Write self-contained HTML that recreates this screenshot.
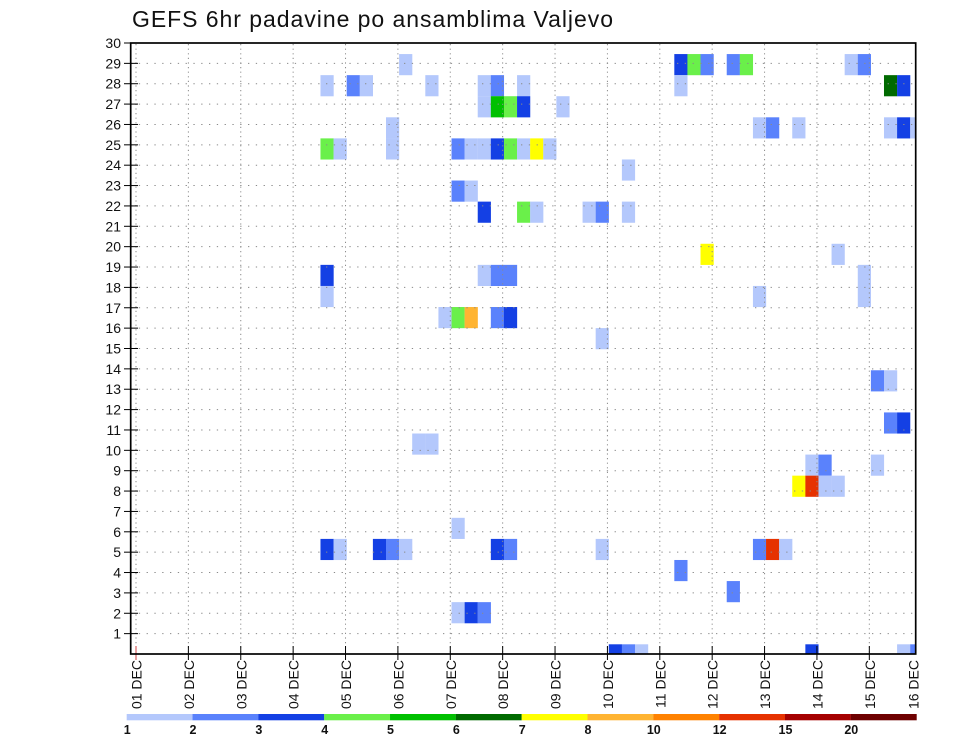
<!DOCTYPE html>
<html>
<head>
<meta charset="utf-8">
<style>
html,body{margin:0;padding:0;background:#fff;}
svg{display:block;}
.c1{fill:#b4c8fc}.c2{fill:#5a82fc}.c3{fill:#1440e4}.c4{fill:#6af04a}.c5{fill:#00c000}.c6{fill:#006a00}
.c7{fill:#ffff00}.c8{fill:#ffb432}.c9{fill:#ff8200}.c10{fill:#e63200}.c11{fill:#a50000}.c12{fill:#6e0000}
text{font-family:"Liberation Sans",Arial,sans-serif;fill:#111;}
.yl{font-size:14px;text-anchor:end;}
.xl{font-size:14px;text-anchor:end;}
.cl{font-size:12.5px;font-weight:bold;text-anchor:middle;}
.hg{stroke:#8a8a8a;stroke-width:1;stroke-dasharray:1.3 6.5;}
.vg{stroke:#8a8a8a;stroke-width:1;stroke-dasharray:1.2 3.4;}
.tk{stroke:#000;stroke-width:1;}
</style>
</head>
<body>
<svg width="960" height="742" viewBox="0 0 960 742" xmlns="http://www.w3.org/2000/svg">
<rect width="960" height="742" fill="#fff"/>
<text x="132" y="27" font-size="23" textLength="481" lengthAdjust="spacing">GEFS 6hr padavine po ansamblima Valjevo</text>
<defs><clipPath id="pc"><rect x="130.7" y="43" width="785" height="611"/></clipPath></defs>
<g clip-path="url(#pc)">
<rect class="c1" x="399.1" y="54.06" width="13.2" height="21.15"/>
<rect class="c3" x="674.31" y="54.06" width="13.2" height="21.15"/>
<rect class="c4" x="687.41" y="54.06" width="13.2" height="21.15"/>
<rect class="c2" x="700.52" y="54.06" width="13.2" height="21.15"/>
<rect class="c2" x="726.73" y="54.06" width="13.2" height="21.15"/>
<rect class="c4" x="739.83" y="54.06" width="13.2" height="21.15"/>
<rect class="c1" x="844.67" y="54.06" width="13.2" height="21.15"/>
<rect class="c2" x="857.78" y="54.06" width="13.2" height="21.15"/>
<rect class="c1" x="320.47" y="75.14" width="13.2" height="21.15"/>
<rect class="c2" x="346.68" y="75.14" width="13.2" height="21.15"/>
<rect class="c1" x="359.79" y="75.14" width="13.2" height="21.15"/>
<rect class="c1" x="425.31" y="75.14" width="13.2" height="21.15"/>
<rect class="c1" x="477.73" y="75.14" width="13.2" height="21.15"/>
<rect class="c2" x="490.84" y="75.14" width="13.2" height="21.15"/>
<rect class="c1" x="517.05" y="75.14" width="13.2" height="21.15"/>
<rect class="c1" x="674.31" y="75.14" width="13.2" height="21.15"/>
<rect class="c6" x="883.99" y="75.14" width="13.2" height="21.15"/>
<rect class="c3" x="897.09" y="75.14" width="13.2" height="21.15"/>
<rect class="c1" x="477.73" y="96.22" width="13.2" height="21.15"/>
<rect class="c5" x="490.84" y="96.22" width="13.2" height="21.15"/>
<rect class="c4" x="503.94" y="96.22" width="13.2" height="21.15"/>
<rect class="c3" x="517.05" y="96.22" width="13.2" height="21.15"/>
<rect class="c1" x="556.36" y="96.22" width="13.2" height="21.15"/>
<rect class="c1" x="386.0" y="117.3" width="13.2" height="21.15"/>
<rect class="c1" x="752.94" y="117.3" width="13.2" height="21.15"/>
<rect class="c2" x="766.04" y="117.3" width="13.2" height="21.15"/>
<rect class="c1" x="792.25" y="117.3" width="13.2" height="21.15"/>
<rect class="c1" x="883.99" y="117.3" width="13.2" height="21.15"/>
<rect class="c3" x="897.09" y="117.3" width="13.2" height="21.15"/>
<rect class="c1" x="910.2" y="117.3" width="13.2" height="21.15"/>
<rect class="c4" x="320.47" y="138.38" width="13.2" height="21.15"/>
<rect class="c1" x="333.58" y="138.38" width="13.2" height="21.15"/>
<rect class="c1" x="386.0" y="138.38" width="13.2" height="21.15"/>
<rect class="c2" x="451.52" y="138.38" width="13.2" height="21.15"/>
<rect class="c1" x="464.63" y="138.38" width="13.2" height="21.15"/>
<rect class="c1" x="477.73" y="138.38" width="13.2" height="21.15"/>
<rect class="c3" x="490.84" y="138.38" width="13.2" height="21.15"/>
<rect class="c4" x="503.94" y="138.38" width="13.2" height="21.15"/>
<rect class="c1" x="517.05" y="138.38" width="13.2" height="21.15"/>
<rect class="c7" x="530.15" y="138.38" width="13.2" height="21.15"/>
<rect class="c1" x="543.26" y="138.38" width="13.2" height="21.15"/>
<rect class="c1" x="621.89" y="159.46" width="13.2" height="21.15"/>
<rect class="c2" x="451.52" y="180.54" width="13.2" height="21.15"/>
<rect class="c1" x="464.63" y="180.54" width="13.2" height="21.15"/>
<rect class="c3" x="477.73" y="201.62" width="13.2" height="21.15"/>
<rect class="c4" x="517.05" y="201.62" width="13.2" height="21.15"/>
<rect class="c1" x="530.15" y="201.62" width="13.2" height="21.15"/>
<rect class="c1" x="582.57" y="201.62" width="13.2" height="21.15"/>
<rect class="c2" x="595.68" y="201.62" width="13.2" height="21.15"/>
<rect class="c1" x="621.89" y="201.62" width="13.2" height="21.15"/>
<rect class="c7" x="700.52" y="243.78" width="13.2" height="21.15"/>
<rect class="c1" x="831.57" y="243.78" width="13.2" height="21.15"/>
<rect class="c3" x="320.47" y="264.86" width="13.2" height="21.15"/>
<rect class="c1" x="477.73" y="264.86" width="13.2" height="21.15"/>
<rect class="c2" x="490.84" y="264.86" width="13.2" height="21.15"/>
<rect class="c2" x="503.94" y="264.86" width="13.2" height="21.15"/>
<rect class="c1" x="857.78" y="264.86" width="13.2" height="21.15"/>
<rect class="c1" x="320.47" y="285.94" width="13.2" height="21.15"/>
<rect class="c1" x="752.94" y="285.94" width="13.2" height="21.15"/>
<rect class="c1" x="857.78" y="285.94" width="13.2" height="21.15"/>
<rect class="c1" x="438.42" y="307.02" width="13.2" height="21.15"/>
<rect class="c4" x="451.52" y="307.02" width="13.2" height="21.15"/>
<rect class="c8" x="464.63" y="307.02" width="13.2" height="21.15"/>
<rect class="c2" x="490.84" y="307.02" width="13.2" height="21.15"/>
<rect class="c3" x="503.94" y="307.02" width="13.2" height="21.15"/>
<rect class="c1" x="595.68" y="328.1" width="13.2" height="21.15"/>
<rect class="c2" x="870.88" y="370.26" width="13.2" height="21.15"/>
<rect class="c1" x="883.99" y="370.26" width="13.2" height="21.15"/>
<rect class="c2" x="883.99" y="412.42" width="13.2" height="21.15"/>
<rect class="c3" x="897.09" y="412.42" width="13.2" height="21.15"/>
<rect class="c1" x="412.2" y="433.5" width="13.2" height="21.15"/>
<rect class="c1" x="425.31" y="433.5" width="13.2" height="21.15"/>
<rect class="c1" x="805.36" y="454.58" width="13.2" height="21.15"/>
<rect class="c2" x="818.46" y="454.58" width="13.2" height="21.15"/>
<rect class="c1" x="870.88" y="454.58" width="13.2" height="21.15"/>
<rect class="c7" x="792.25" y="475.66" width="13.2" height="21.15"/>
<rect class="c10" x="805.36" y="475.66" width="13.2" height="21.15"/>
<rect class="c1" x="818.46" y="475.66" width="13.2" height="21.15"/>
<rect class="c1" x="831.57" y="475.66" width="13.2" height="21.15"/>
<rect class="c1" x="451.52" y="517.82" width="13.2" height="21.15"/>
<rect class="c3" x="320.47" y="538.9" width="13.2" height="21.15"/>
<rect class="c1" x="333.58" y="538.9" width="13.2" height="21.15"/>
<rect class="c3" x="372.89" y="538.9" width="13.2" height="21.15"/>
<rect class="c2" x="386.0" y="538.9" width="13.2" height="21.15"/>
<rect class="c1" x="399.1" y="538.9" width="13.2" height="21.15"/>
<rect class="c3" x="490.84" y="538.9" width="13.2" height="21.15"/>
<rect class="c2" x="503.94" y="538.9" width="13.2" height="21.15"/>
<rect class="c1" x="595.68" y="538.9" width="13.2" height="21.15"/>
<rect class="c2" x="752.94" y="538.9" width="13.2" height="21.15"/>
<rect class="c10" x="766.04" y="538.9" width="13.2" height="21.15"/>
<rect class="c1" x="779.15" y="538.9" width="13.2" height="21.15"/>
<rect class="c2" x="674.31" y="559.98" width="13.2" height="21.15"/>
<rect class="c2" x="726.73" y="581.06" width="13.2" height="21.15"/>
<rect class="c1" x="451.52" y="602.14" width="13.2" height="21.15"/>
<rect class="c3" x="464.63" y="602.14" width="13.2" height="21.15"/>
<rect class="c2" x="477.73" y="602.14" width="13.2" height="21.15"/>
<rect class="c3" x="608.78" y="644.3" width="13.2" height="21.15"/>
<rect class="c2" x="621.89" y="644.3" width="13.2" height="21.15"/>
<rect class="c1" x="634.99" y="644.3" width="13.2" height="21.15"/>
<rect class="c3" x="805.36" y="644.3" width="13.2" height="21.15"/>
<rect class="c1" x="897.09" y="644.3" width="13.2" height="21.15"/>
<rect class="c2" x="910.2" y="644.3" width="13.2" height="21.15"/>
</g>
<g class="hg">
<line x1="131" x2="915" y1="633.63" y2="633.63"/>
<line x1="131" x2="915" y1="613.27" y2="613.27"/>
<line x1="131" x2="915" y1="592.9" y2="592.9"/>
<line x1="131" x2="915" y1="572.53" y2="572.53"/>
<line x1="131" x2="915" y1="552.17" y2="552.17"/>
<line x1="131" x2="915" y1="531.8" y2="531.8"/>
<line x1="131" x2="915" y1="511.43" y2="511.43"/>
<line x1="131" x2="915" y1="491.06" y2="491.06"/>
<line x1="131" x2="915" y1="470.7" y2="470.7"/>
<line x1="131" x2="915" y1="450.33" y2="450.33"/>
<line x1="131" x2="915" y1="429.96" y2="429.96"/>
<line x1="131" x2="915" y1="409.6" y2="409.6"/>
<line x1="131" x2="915" y1="389.23" y2="389.23"/>
<line x1="131" x2="915" y1="368.86" y2="368.86"/>
<line x1="131" x2="915" y1="348.5" y2="348.5"/>
<line x1="131" x2="915" y1="328.13" y2="328.13"/>
<line x1="131" x2="915" y1="307.76" y2="307.76"/>
<line x1="131" x2="915" y1="287.39" y2="287.39"/>
<line x1="131" x2="915" y1="267.03" y2="267.03"/>
<line x1="131" x2="915" y1="246.66" y2="246.66"/>
<line x1="131" x2="915" y1="226.29" y2="226.29"/>
<line x1="131" x2="915" y1="205.93" y2="205.93"/>
<line x1="131" x2="915" y1="185.56" y2="185.56"/>
<line x1="131" x2="915" y1="165.19" y2="165.19"/>
<line x1="131" x2="915" y1="144.83" y2="144.83"/>
<line x1="131" x2="915" y1="124.46" y2="124.46"/>
<line x1="131" x2="915" y1="104.09" y2="104.09"/>
<line x1="131" x2="915" y1="83.72" y2="83.72"/>
<line x1="131" x2="915" y1="63.36" y2="63.36"/>
</g>
<g class="vg">
<line x1="136" x2="136" y1="44" y2="653"/>
<line x1="188.38" x2="188.38" y1="44" y2="653"/>
<line x1="240.76" x2="240.76" y1="44" y2="653"/>
<line x1="293.14" x2="293.14" y1="44" y2="653"/>
<line x1="345.52" x2="345.52" y1="44" y2="653"/>
<line x1="397.9" x2="397.9" y1="44" y2="653"/>
<line x1="450.28" x2="450.28" y1="44" y2="653"/>
<line x1="502.66" x2="502.66" y1="44" y2="653"/>
<line x1="555.04" x2="555.04" y1="44" y2="653"/>
<line x1="607.42" x2="607.42" y1="44" y2="653"/>
<line x1="659.8" x2="659.8" y1="44" y2="653"/>
<line x1="712.18" x2="712.18" y1="44" y2="653"/>
<line x1="764.56" x2="764.56" y1="44" y2="653"/>
<line x1="816.94" x2="816.94" y1="44" y2="653"/>
<line x1="869.32" x2="869.32" y1="44" y2="653"/>
</g>
<g class="tk">
<line x1="124" x2="138" y1="633.63" y2="633.63"/>
<line x1="124" x2="138" y1="613.27" y2="613.27"/>
<line x1="124" x2="138" y1="592.9" y2="592.9"/>
<line x1="124" x2="138" y1="572.53" y2="572.53"/>
<line x1="124" x2="138" y1="552.17" y2="552.17"/>
<line x1="124" x2="138" y1="531.8" y2="531.8"/>
<line x1="124" x2="138" y1="511.43" y2="511.43"/>
<line x1="124" x2="138" y1="491.06" y2="491.06"/>
<line x1="124" x2="138" y1="470.7" y2="470.7"/>
<line x1="124" x2="138" y1="450.33" y2="450.33"/>
<line x1="124" x2="138" y1="429.96" y2="429.96"/>
<line x1="124" x2="138" y1="409.6" y2="409.6"/>
<line x1="124" x2="138" y1="389.23" y2="389.23"/>
<line x1="124" x2="138" y1="368.86" y2="368.86"/>
<line x1="124" x2="138" y1="348.5" y2="348.5"/>
<line x1="124" x2="138" y1="328.13" y2="328.13"/>
<line x1="124" x2="138" y1="307.76" y2="307.76"/>
<line x1="124" x2="138" y1="287.39" y2="287.39"/>
<line x1="124" x2="138" y1="267.03" y2="267.03"/>
<line x1="124" x2="138" y1="246.66" y2="246.66"/>
<line x1="124" x2="138" y1="226.29" y2="226.29"/>
<line x1="124" x2="138" y1="205.93" y2="205.93"/>
<line x1="124" x2="138" y1="185.56" y2="185.56"/>
<line x1="124" x2="138" y1="165.19" y2="165.19"/>
<line x1="124" x2="138" y1="144.83" y2="144.83"/>
<line x1="124" x2="138" y1="124.46" y2="124.46"/>
<line x1="124" x2="138" y1="104.09" y2="104.09"/>
<line x1="124" x2="138" y1="83.72" y2="83.72"/>
<line x1="124" x2="138" y1="63.36" y2="63.36"/>
<line x1="124" x2="131" y1="43" y2="43"/>
<line x1="188.38" x2="188.38" y1="646" y2="660"/>
<line x1="240.76" x2="240.76" y1="646" y2="660"/>
<line x1="293.14" x2="293.14" y1="646" y2="660"/>
<line x1="345.52" x2="345.52" y1="646" y2="660"/>
<line x1="397.9" x2="397.9" y1="646" y2="660"/>
<line x1="450.28" x2="450.28" y1="646" y2="660"/>
<line x1="502.66" x2="502.66" y1="646" y2="660"/>
<line x1="555.04" x2="555.04" y1="646" y2="660"/>
<line x1="607.42" x2="607.42" y1="646" y2="660"/>
<line x1="659.8" x2="659.8" y1="646" y2="660"/>
<line x1="712.18" x2="712.18" y1="646" y2="660"/>
<line x1="764.56" x2="764.56" y1="646" y2="660"/>
<line x1="816.94" x2="816.94" y1="646" y2="660"/>
<line x1="869.32" x2="869.32" y1="646" y2="660"/>
</g>
<line x1="136" x2="136" y1="646" y2="660" stroke="#d04040" stroke-width="1"/>
<line x1="131" x2="141" y1="654" y2="654" stroke="#d04040" stroke-width="1"/>
<rect x="130.7" y="43" width="785" height="611" fill="none" stroke="#000" stroke-width="1.7"/>
<g class="yl">
<text x="121" y="638.6">1</text>
<text x="121" y="618.3">2</text>
<text x="121" y="597.9">3</text>
<text x="121" y="577.5">4</text>
<text x="121" y="557.2">5</text>
<text x="121" y="536.8">6</text>
<text x="121" y="516.4">7</text>
<text x="121" y="496.1">8</text>
<text x="121" y="475.7">9</text>
<text x="121" y="455.3">10</text>
<text x="121" y="435.0">11</text>
<text x="121" y="414.6">12</text>
<text x="121" y="394.2">13</text>
<text x="121" y="373.9">14</text>
<text x="121" y="353.5">15</text>
<text x="121" y="333.1">16</text>
<text x="121" y="312.8">17</text>
<text x="121" y="292.4">18</text>
<text x="121" y="272.0">19</text>
<text x="121" y="251.7">20</text>
<text x="121" y="231.3">21</text>
<text x="121" y="210.9">22</text>
<text x="121" y="190.6">23</text>
<text x="121" y="170.2">24</text>
<text x="121" y="149.8">25</text>
<text x="121" y="129.5">26</text>
<text x="121" y="109.1">27</text>
<text x="121" y="88.7">28</text>
<text x="121" y="68.4">29</text>
<text x="121" y="48.0">30</text>
</g>
<g class="xl">
<text transform="translate(141.5,660) rotate(-90)">01 DEC</text>
<text transform="translate(193.9,660) rotate(-90)">02 DEC</text>
<text transform="translate(246.3,660) rotate(-90)">03 DEC</text>
<text transform="translate(298.6,660) rotate(-90)">04 DEC</text>
<text transform="translate(351.0,660) rotate(-90)">05 DEC</text>
<text transform="translate(403.4,660) rotate(-90)">06 DEC</text>
<text transform="translate(455.8,660) rotate(-90)">07 DEC</text>
<text transform="translate(508.2,660) rotate(-90)">08 DEC</text>
<text transform="translate(560.5,660) rotate(-90)">09 DEC</text>
<text transform="translate(612.9,660) rotate(-90)">10 DEC</text>
<text transform="translate(665.3,660) rotate(-90)">11 DEC</text>
<text transform="translate(717.7,660) rotate(-90)">12 DEC</text>
<text transform="translate(770.1,660) rotate(-90)">13 DEC</text>
<text transform="translate(822.4,660) rotate(-90)">14 DEC</text>
<text transform="translate(874.8,660) rotate(-90)">15 DEC</text>
<text transform="translate(918.3,660) rotate(-90)">16 DEC</text>
</g>
<rect class="c1" x="126.7" y="714" width="65.9" height="6.3"/>
<rect class="c2" x="192.53" y="714" width="65.9" height="6.3"/>
<rect class="c3" x="258.36" y="714" width="65.9" height="6.3"/>
<rect class="c4" x="324.19" y="714" width="65.9" height="6.3"/>
<rect class="c5" x="390.02" y="714" width="65.9" height="6.3"/>
<rect class="c6" x="455.85" y="714" width="65.9" height="6.3"/>
<rect class="c7" x="521.68" y="714" width="65.9" height="6.3"/>
<rect class="c8" x="587.51" y="714" width="65.9" height="6.3"/>
<rect class="c9" x="653.34" y="714" width="65.9" height="6.3"/>
<rect class="c10" x="719.17" y="714" width="65.9" height="6.3"/>
<rect class="c11" x="785.0" y="714" width="65.9" height="6.3"/>
<rect class="c12" x="850.83" y="714" width="65.87" height="6.3"/>
<g class="cl">
<text x="127.2" y="734">1</text>
<text x="193" y="734">2</text>
<text x="258.9" y="734">3</text>
<text x="324.7" y="734">4</text>
<text x="390.5" y="734">5</text>
<text x="456.3" y="734">6</text>
<text x="522.2" y="734">7</text>
<text x="588" y="734">8</text>
<text x="653.8" y="734">10</text>
<text x="719.7" y="734">12</text>
<text x="785.5" y="734">15</text>
<text x="851.3" y="734">20</text>
</g>
</svg>
</body>
</html>
